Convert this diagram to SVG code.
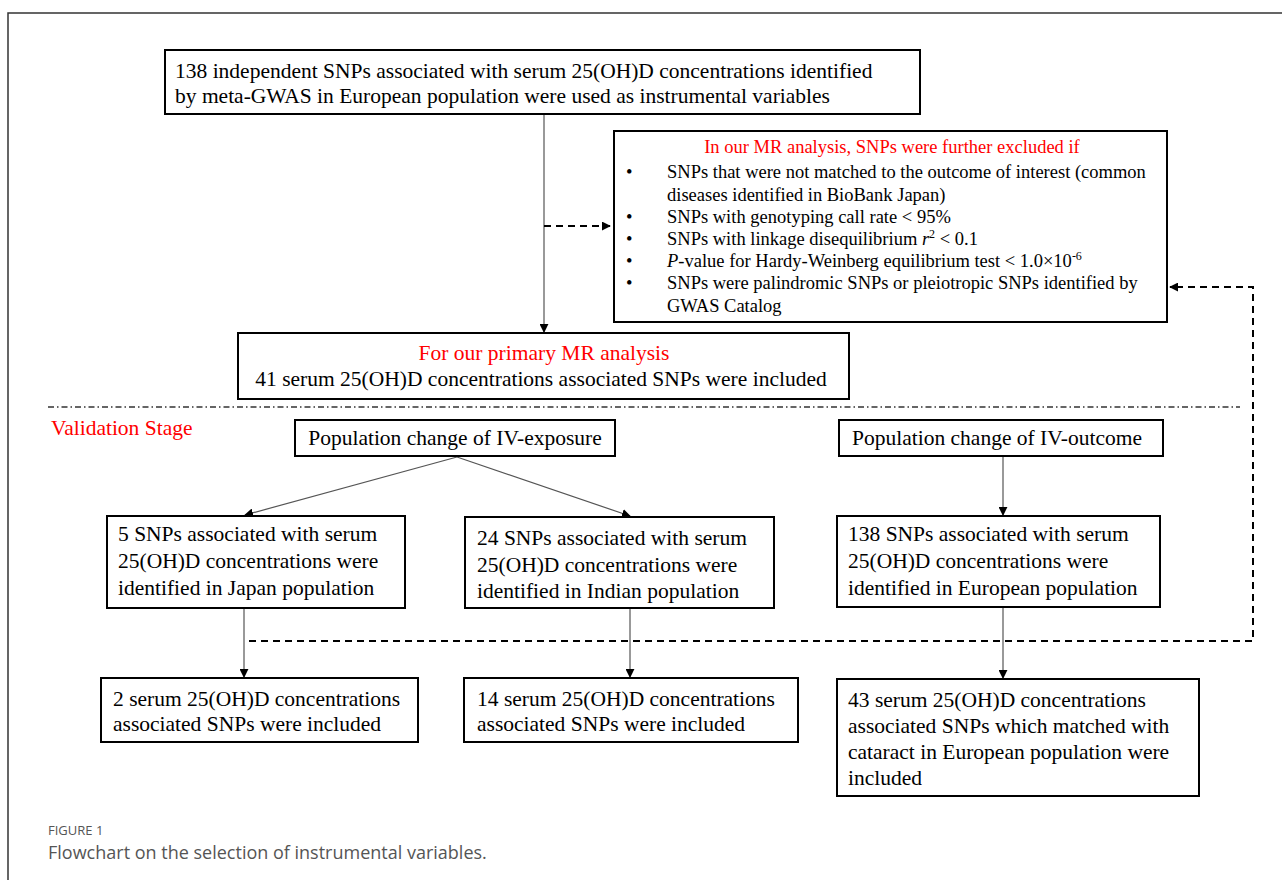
<svg xmlns="http://www.w3.org/2000/svg" width="1282" height="880" viewBox="0 0 1282 880">
<style>
.box{fill:#fff;stroke:#000;stroke-width:2}
.t{font-family:"Liberation Serif","Times New Roman",serif;font-size:21.5px;fill:#000}
.s{font-family:"Liberation Serif","Times New Roman",serif;font-size:18.5px;fill:#000}
.red{fill:#ff0000}
.ln{stroke:#555;stroke-width:1.2;fill:none}
.dash{stroke:#000;stroke-width:2;fill:none;stroke-dasharray:7 5}
.cap{font-family:"Open Sans","Noto Sans",sans-serif;fill:#555}
</style>
<defs>
<marker id="ah" viewBox="0 0 10 10" refX="9" refY="5" markerWidth="9" markerHeight="9" markerUnits="userSpaceOnUse" orient="auto">
<path d="M0,0 L10,5 L0,10 z" fill="#000"/>
</marker>
</defs>
<rect width="1282" height="880" fill="#fff"/>
<path d="M8,880 V13 H1282" fill="none" stroke="#333" stroke-width="1.5"/>

<g id="connectors">
<line class="ln" x1="544" y1="114" x2="544" y2="332" marker-end="url(#ah)"/>
<line class="dash" x1="544" y1="226" x2="610" y2="226" marker-end="url(#ah)"/>
<line x1="48" y1="407" x2="1240" y2="407" stroke="#333" stroke-width="1.5" stroke-dasharray="6 3 1.5 3"/>
<line class="ln" x1="457" y1="457" x2="245" y2="515" marker-end="url(#ah)"/>
<line class="ln" x1="457" y1="457" x2="630" y2="516" marker-end="url(#ah)"/>
<line class="ln" x1="1003" y1="456" x2="1003" y2="515" marker-end="url(#ah)"/>
<line class="ln" x1="244" y1="608" x2="244" y2="677" marker-end="url(#ah)"/>
<line class="ln" x1="630" y1="608" x2="630" y2="677" marker-end="url(#ah)"/>
<line class="ln" x1="1003" y1="607" x2="1003" y2="678" marker-end="url(#ah)"/>
<path class="dash" d="M249,641 H1253 V287 H1170" marker-end="url(#ah)"/>
</g>

<g id="n1">
<rect class="box" x="165" y="50" width="755" height="64"/>
<text class="t" x="175" y="78">138 independent SNPs associated with serum 25(OH)D concentrations identified</text>
<text class="t" x="175" y="103">by meta-GWAS in European population were used as instrumental variables</text>
</g>

<g id="n2">
<rect class="box" x="614" y="131" width="553" height="191"/>
<text class="s red" x="892" y="153" text-anchor="middle">In our MR analysis, SNPs were further excluded if</text>
<text class="s" x="626" y="178">•</text>
<text class="s" x="667" y="178">SNPs that were not matched to the outcome of interest (common</text>
<text class="s" x="667" y="201">diseases identified in BioBank Japan)</text>
<text class="s" x="626" y="223">•</text>
<text class="s" x="667" y="223">SNPs with genotyping call rate &lt; 95%</text>
<text class="s" x="626" y="245">•</text>
<text class="s" x="667" y="245">SNPs with linkage disequilibrium <tspan font-style="italic">r</tspan><tspan font-size="12" dy="-7">2</tspan><tspan dy="7"> &lt; 0.1</tspan></text>
<text class="s" x="626" y="267">•</text>
<text class="s" x="667" y="267"><tspan font-style="italic">P</tspan>-value for Hardy-Weinberg equilibrium test &lt; 1.0×10<tspan font-size="12" dy="-7">-6</tspan></text>
<text class="s" x="626" y="289">•</text>
<text class="s" x="667" y="289">SNPs were palindromic SNPs or pleiotropic SNPs identified by</text>
<text class="s" x="667" y="312">GWAS Catalog</text>
</g>

<g id="n3">
<rect class="box" x="238" y="333" width="611" height="66"/>
<text class="t red" x="544" y="360" text-anchor="middle">For our primary MR analysis</text>
<text class="t" x="541" y="386" text-anchor="middle">41 serum 25(OH)D concentrations associated SNPs were included</text>
</g>

<g id="validation-label">
<text class="t red" x="51" y="435" font-size="20">Validation Stage</text>
</g>

<g id="n4">
<rect class="box" x="295" y="420" width="320" height="36"/>
<text class="t" x="455" y="445" text-anchor="middle">Population change of IV-exposure</text>
</g>

<g id="n5">
<rect class="box" x="839" y="420" width="324" height="36"/>
<text class="t" x="997" y="445" text-anchor="middle">Population change of IV-outcome</text>
</g>

<g id="n6">
<rect class="box" x="107" y="516" width="298" height="92"/>
<text class="t" x="118" y="541">5 SNPs associated with serum</text>
<text class="t" x="118" y="568">25(OH)D concentrations were</text>
<text class="t" x="118" y="595">identified in Japan population</text>
</g>

<g id="n7">
<rect class="box" x="465" y="517" width="309" height="91"/>
<text class="t" x="477" y="545">24 SNPs associated with serum</text>
<text class="t" x="477" y="572">25(OH)D concentrations were</text>
<text class="t" x="477" y="598">identified in Indian population</text>
</g>

<g id="n8">
<rect class="box" x="837" y="516" width="323" height="91"/>
<text class="t" x="848" y="541">138 SNPs associated with serum</text>
<text class="t" x="848" y="568">25(OH)D concentrations were</text>
<text class="t" x="848" y="595">identified in European population</text>
</g>

<g id="n9">
<rect class="box" x="101" y="678" width="317" height="64"/>
<text class="t" x="113" y="706">2 serum 25(OH)D concentrations</text>
<text class="t" x="113" y="731">associated SNPs were included</text>
</g>

<g id="n10">
<rect class="box" x="464" y="678" width="334" height="64"/>
<text class="t" x="477" y="706">14 serum 25(OH)D concentrations</text>
<text class="t" x="477" y="731">associated SNPs were included</text>
</g>

<g id="n11">
<rect class="box" x="837" y="679" width="362" height="117"/>
<text class="t" x="848" y="707">43 serum 25(OH)D concentrations</text>
<text class="t" x="848" y="733">associated SNPs which matched with</text>
<text class="t" x="848" y="759">cataract in European population were</text>
<text class="t" x="848" y="785">included</text>
</g>

<g id="caption">
<text class="cap" x="48" y="835" font-size="13">FIGURE 1</text>
<text class="cap" x="48" y="859" font-size="18">Flowchart on the selection of instrumental variables.</text>
</g>
</svg>
